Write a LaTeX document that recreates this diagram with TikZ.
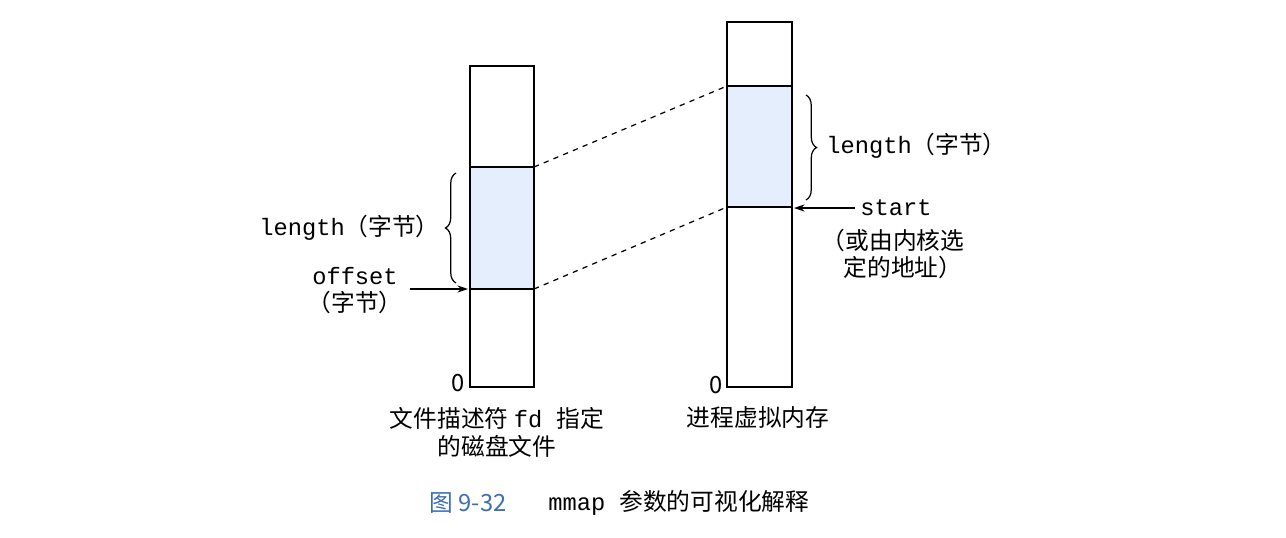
\documentclass[tikz,border=0pt]{standalone}
\usepackage{fontspec}
\setmonofont{Liberation Mono}
\newfontfamily\cjk{Noto Sans CJK SC}
\usetikzlibrary{decorations.pathreplacing,arrows.meta}
\definecolor{hl}{RGB}{228,238,252}
\definecolor{capblue}{RGB}{60,110,180}
\tikzset{box/.style={draw,line width=0.8pt},
 lab/.style={font=\fontsize{13.5}{16}\selectfont\cjk,inner sep=0pt,align=center},
 dashline/.style={dashed,line width=0.7pt},
 arr/.style={-{Stealth[length=6pt,width=4pt]},line width=0.7pt},
 brace/.style={decorate,decoration={brace,amplitude=6pt},line width=0.7pt}}
\begin{document}
\begin{tikzpicture}[x=0.02cm,y=-0.02cm]
\useasboundingbox (0,0) rectangle (1286,538);
% left column
\fill[hl] (470,167) rectangle (534,289);
\draw[box] (470,66) rectangle (534,387);
\draw[box] (470,167) -- (534,167) (470,289) -- (534,289);
\coordinate (l1) at (534,167); \coordinate (l2) at (534,289);
% right column
\fill[hl] (727,86) rectangle (792,207);
\draw[box] (727,22) rectangle (792,387);
\draw[box] (727,86) -- (792,86) (727,207) -- (792,207);
\coordinate (r1) at (727,86); \coordinate (r2) at (727,207);
\draw[dashline] (l1) -- (r1) (l2) -- (r2);
% left labels
\draw[brace] (456,283) -- (456,173);
\node[lab,anchor=east] (ll) at (440,228) {\ttfamily length\cjk（字节）};
\node[lab] (off) at (355,276) {\ttfamily offset};
\node[lab] (offb) at (355,302) {（字节）};
\coordinate (offp) at (468,289);
\draw[arr] (410,289) -- (offp);
\node[lab] (z1) at (458,383) {0};
\node[lab] (lc) at (497,432) {文件描述符 \ttfamily fd \cjk 指定\\的磁盘文件};
% right labels
\draw[brace] (806,95) -- (806,200);
\node[lab,anchor=west] (rl) at (826,146) {\ttfamily length\cjk（字节）};
\coordinate (sp) at (794,208);
\draw[arr] (855,208) -- (sp);
\node[lab,anchor=west] (st) at (860,208) {\ttfamily start};
\node[lab] (st2) at (893,240) {（或由内核选};
\node[lab] (st3) at (903,267) {定的地址）};
\node[lab] (z2) at (716,385) {0};
\node[lab] (rc) at (758,418) {进程虚拟内存};
% caption
\node[lab,text=capblue] (c1) at (468,503) {图 9-32};
\node[lab,anchor=west] (c2) at (548,503) {\ttfamily mmap \cjk 参数的可视化解释};
\end{tikzpicture}
\end{document}
